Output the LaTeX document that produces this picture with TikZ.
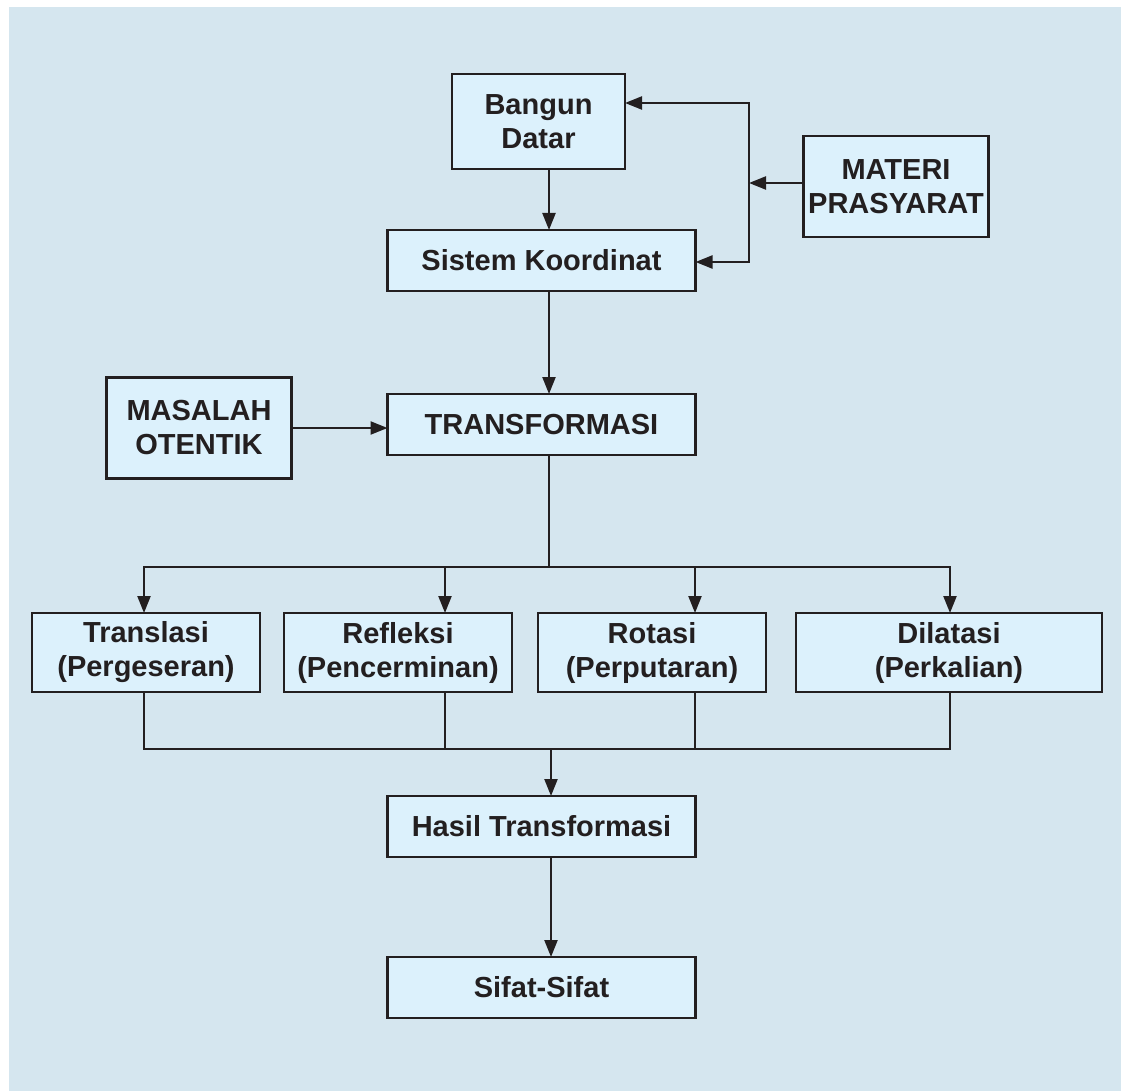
\documentclass[tikz,border=0pt]{standalone}
\usepackage{fontspec}
\setmainfont{Liberation Sans}
\usetikzlibrary{positioning, arrows.meta}
\definecolor{bgcol}{HTML}{D5E6EF}
\definecolor{boxcol}{HTML}{DCF1FC}
\definecolor{linecol}{HTML}{231F20}
\tikzset{
    box/.style={draw, fill=boxcol, outer sep=0pt, inner sep=0pt, align=center, font=\bfseries\fontsize{29}{34}\selectfont},
    widebox/.style={box, minimum width=308pt, minimum height=61pt},
    smallbox/.style={box, minimum width=173pt, minimum height=95pt},
    squarebox/.style={box, minimum width=185pt, minimum height=101pt},
    kindbox/.style={box, minimum width=228pt, minimum height=79pt}
}

\begin{document}
\begin{tikzpicture}[x=1pt, y=-1pt, color=linecol, line width=2.3pt, >={Triangle[length=17pt, width=13pt]}]
  % page and background
  \useasboundingbox (0,0) rectangle (1121,1091);
  \fill[bgcol] (9,7) rectangle (1121,1091);
  % main column
  \node(SK)[widebox] at (541.5,260.5){Sistem Koordinat};
  \node(BD)[smallbox, above=61pt of SK, xshift=-3pt]{Bangun\\Datar};
  \node(MP)[squarebox, right=108pt of SK, yshift=74pt]{MATERI\\PRASYARAT};
  \node(TR)[widebox, below=103pt of SK]{TRANSFORMASI};
  \node(MO)[squarebox, left=96pt of TR, yshift=-3.5pt]{MASALAH\\OTENTIK};
  % kinds of transformation
  \node(TL)[kindbox] at (146,652.5){Translasi\\(Pergeseran)};
  \node(RF)[kindbox, right=24pt of TL]{Refleksi\\(Pencerminan)};
  \node(RT)[kindbox, right=26pt of RF]{Rotasi\\(Perputaran)};
  \node(DL)[kindbox, minimum width=306pt, right=30pt of RT]{Dilatasi\\(Perkalian)};
  \node(HT)[widebox, below=341pt of TR]{Hasil Transformasi};
  \node(SS)[widebox, below=100pt of HT]{Sifat-Sifat};
  \coordinate(fbtop) at (749,103);
  \coordinate(fbmid) at (749,183);
  \coordinate(fbbot) at (749,262);
  \coordinate(split) at (549,567);
  \coordinate(merge) at (551,749);
  \draw[<->](BD.east |- fbtop)--(fbtop)--(fbbot)--(SK.east |- fbbot);
  \draw[->](MP.west |- fbmid)--(fbmid);
  \draw[->](BD.south -| split)--(SK.north -| split);
  \draw[->](SK.south -| split)--(TR.north -| split);
  \draw[->](MO.east)--(MO.east -| TR.west);
  \draw(TR.south -| split)--(split);
  \foreach \n/\x in {TL/144, RF/445, RT/695, DL/950}{
    \draw[->](split)-|(\n.north -| \x,0);
    \draw(\n.south -| \x,0)|-(merge);
  }
  \draw[->](merge)--(HT.north -| merge);
  \draw[->](HT.south -| merge)--(SS.north -| merge);
\end{tikzpicture}
\end{document}
